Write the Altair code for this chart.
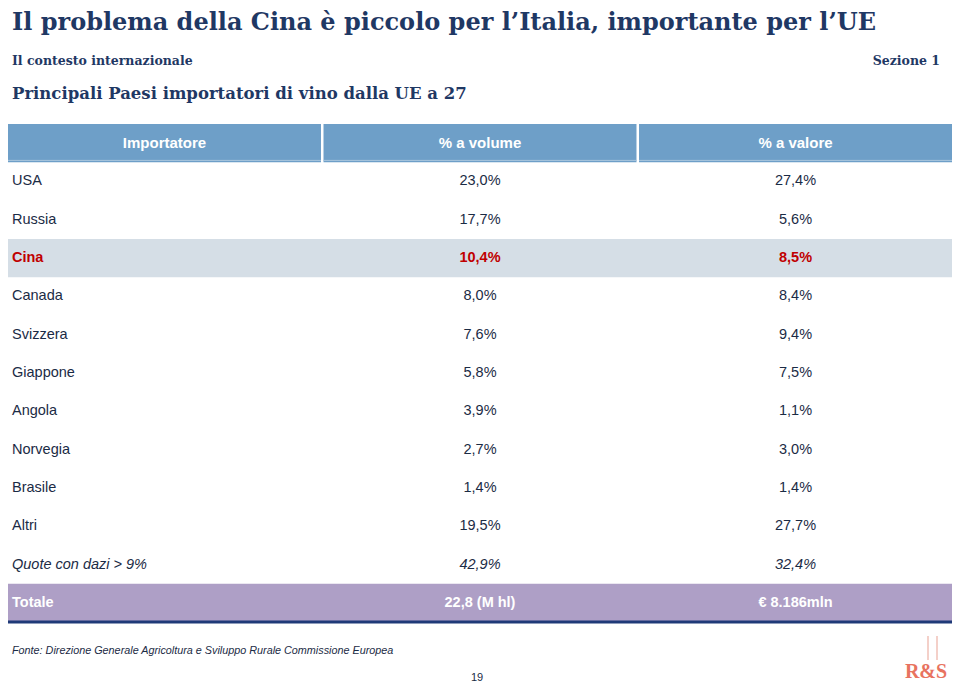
import altair as alt
import pandas as pd

# ---------------- data ----------------
titolo = "Il problema della Cina è piccolo per l’Italia, importante per l’UE"
sottotitolo = "Il contesto internazionale"
sezione = "Sezione 1"
titolo_tabella = "Principali Paesi importatori di vino dalla UE a 27"
fonte = "Fonte: Direzione Generale Agricoltura e Sviluppo Rurale Commissione Europea"
pagina = "19"
logo = "R&S"

colonne = ["Importatore", "% a volume", "% a valore"]
paesi = ["USA", "Russia", "Cina", "Canada", "Svizzera", "Giappone", "Angola",
         "Norvegia", "Brasile", "Altri", "Quote con dazi > 9%"]
quota_volume = [23.0, 17.7, 10.4, 8.0, 7.6, 5.8, 3.9, 2.7, 1.4, 19.5, 42.9]
quota_valore = [27.4, 5.6, 8.5, 8.4, 9.4, 7.5, 1.1, 3.0, 1.4, 27.7, 32.4]
totale_label = "Totale"
totale_volume = "22,8 (M hl)"
totale_valore = "€ 8.186mln"

riga_evidenza = "Cina"
riga_corsivo = "Quote con dazi > 9%"

# ---------------- table ----------------
def fmt(v):
    return f"{v:.1f}".replace(".", ",") + "%"

celle = []
for c in colonne:
    celle.append({"riga": colonne[0], "colonna": c, "testo": c})
for p, vo, va in zip(paesi, quota_volume, quota_valore):
    celle.append({"riga": p, "colonna": colonne[0], "testo": p})
    celle.append({"riga": p, "colonna": colonne[1], "testo": fmt(vo)})
    celle.append({"riga": p, "colonna": colonne[2], "testo": fmt(va)})
celle.append({"riga": totale_label, "colonna": colonne[0], "testo": totale_label})
celle.append({"riga": totale_label, "colonna": colonne[1], "testo": totale_volume})
celle.append({"riga": totale_label, "colonna": colonne[2], "testo": totale_valore})
df = pd.DataFrame(celle)

righe = [colonne[0]] + paesi + [totale_label]

W, H = 944, 676
NAVY = "#1F3864"
DARK = "#1B2B45"
RED = "#C00000"
HEADER = "#6E9FC8"
HILITE = "#D5DEE6"
TOTAL = "#AE9FC6"
LINE = "#1F3A78"
SANS = "Liberation Sans"
SERIF = "DejaVu Serif"

xscale = alt.Scale(domain=colonne, range=[0, W], paddingInner=0.008, paddingOuter=0)
yscale = alt.Scale(domain=righe, range=[116, 614], paddingInner=0, paddingOuter=0)

base = alt.Chart(df)

X = lambda bp: alt.X("colonna:N", scale=xscale, axis=None, bandPosition=bp)
Y = alt.Y("riga:N", scale=yscale, axis=None)
YC = alt.Y("riga:N", scale=yscale, axis=None, bandPosition=0.5)

layers = []

# header cells
layers.append(
    base.transform_filter(alt.datum.riga == colonne[0])
    .mark_rect(color=HEADER)
    .encode(x=alt.X("colonna:N", scale=xscale, axis=None), y=Y)
)
# thin light line under header
layers.append(
    base.transform_filter(alt.datum.riga == colonne[0])
    .mark_rule(color="#A9C6DE", strokeWidth=1)
    .encode(x=alt.X("colonna:N", scale=xscale, axis=None, bandPosition=0),
            x2=alt.X2("colonna:N", bandPosition=1),
            y=alt.Y("riga:N", scale=yscale, axis=None, bandPosition=0.95))
)
# highlighted rows (full width)
layers.append(
    base.transform_filter(
        (alt.datum.riga == riga_evidenza) | (alt.datum.riga == totale_label))
    .transform_filter(alt.datum.colonna == colonne[0])
    .mark_rect()
    .encode(
        x=alt.value(0), x2=alt.value(W), y=Y,
        color=alt.condition(alt.datum.riga == riga_evidenza,
                            alt.value(HILITE), alt.value(TOTAL)),
    )
)
# dark line below total row
layers.append(
    base.transform_filter(alt.datum.riga == totale_label)
    .transform_filter(alt.datum.colonna == colonne[0])
    .mark_rule(color=LINE, strokeWidth=3)
    .encode(x=alt.value(0), x2=alt.value(W),
            y=alt.Y("riga:N", scale=yscale, axis=None, bandPosition=1))
)

# header text
layers.append(
    base.transform_filter(alt.datum.riga == colonne[0])
    .mark_text(font=SANS, fontSize=15, fontWeight="bold", color="white",
               align="center", baseline="middle")
    .encode(x=X(0.5), y=YC, text="testo:N")
)

speciali = [colonne[0], riga_evidenza, riga_corsivo, totale_label]
gruppi = [
    ("indexof(" + str(speciali) + ", datum.riga) < 0", DARK, "normal", "normal"),
    (f"datum.riga == '{riga_evidenza}'", RED, "bold", "normal"),
    (f"datum.riga == '{riga_corsivo}'", DARK, "normal", "italic"),
    (f"datum.riga == '{totale_label}'", "white", "bold", "normal"),
]
for filtro, col, peso, stile in gruppi:
    g = base.transform_filter(filtro)
    layers.append(
        g.transform_filter(alt.datum.colonna == colonne[0])
        .mark_text(font=SANS, fontSize=14.5, fontWeight=peso, fontStyle=stile,
                   color=col, align="left", baseline="middle", dx=4)
        .encode(x=X(0), y=YC, text="testo:N")
    )
    layers.append(
        g.transform_filter(alt.datum.colonna != colonne[0])
        .mark_text(font=SANS, fontSize=14.5, fontWeight=peso, fontStyle=stile,
                   color=col, align="center", baseline="middle")
        .encode(x=X(0.5), y=YC, text="testo:N")
    )

# ---------------- page texts ----------------
def etichetta(t, x, y, **kw):
    return alt.Chart(pd.DataFrame({"t": [t]})).mark_text(**kw).encode(
        text="t:N", x=alt.value(x), y=alt.value(y))

layers.append(etichetta(titolo, 4, 22, font=SERIF, fontSize=24, fontWeight="bold",
                        color=NAVY, align="left", baseline="alphabetic"))
layers.append(etichetta(sottotitolo, 4, 57, font=SERIF, fontSize=12.5, fontWeight="bold",
                        color=NAVY, align="left", baseline="alphabetic"))
layers.append(etichetta(sezione, 932, 57, font=SERIF, fontSize=12.5, fontWeight="bold",
                        color=NAVY, align="right", baseline="alphabetic"))
layers.append(etichetta(titolo_tabella, 4, 91, font=SERIF, fontSize=16.5, fontWeight="bold",
                        color=NAVY, align="left", baseline="alphabetic"))
layers.append(etichetta(fonte, 4, 643, font=SANS, fontSize=10.8, fontStyle="italic",
                        color=DARK, align="left", baseline="middle"))
layers.append(etichetta(pagina, 469, 670, font=SANS, fontSize=11,
                        color=DARK, align="center", baseline="middle"))

# logo
for lx in (920, 929):
    layers.append(
        alt.Chart(pd.DataFrame({"t": [logo]})).mark_rule(color="#E9A193", strokeWidth=1)
        .encode(x=alt.value(lx), y=alt.value(628), y2=alt.value(652))
    )
layers.append(etichetta(logo, 918, 670, font="Liberation Serif", fontSize=20,
                        fontWeight="bold", color="#E8735F", align="center",
                        baseline="alphabetic"))

chart = (
    alt.layer(*layers)
    .properties(width=W, height=H, padding=0, autosize=alt.AutoSizeParams(type="none"),
                background="white")
    .configure_view(stroke=None)
)

chart.save("out.html", embed_options={"renderer": "svg", "actions": False})
